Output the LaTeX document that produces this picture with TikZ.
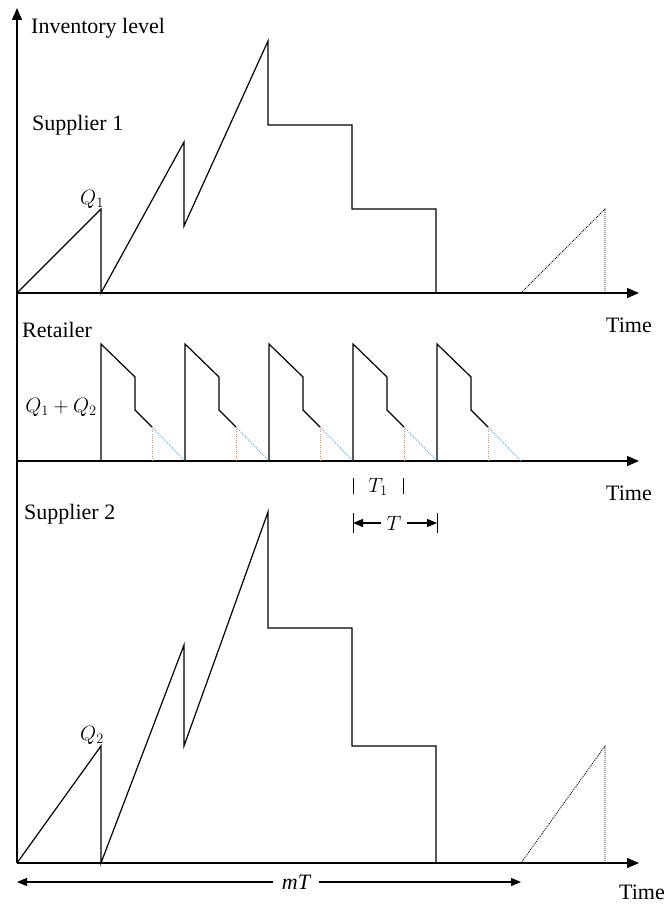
\documentclass[tikz,border=0pt]{standalone}
\usepackage{fontspec}
\setmainfont{Liberation Serif}
\usetikzlibrary{arrows.meta}
\definecolor{dblue}{RGB}{80,165,215}
\definecolor{dorange}{RGB}{240,140,80}
\begin{document}
\begin{tikzpicture}[x=1pt,y=-1pt,
  curve/.style={line width=1.2pt, line join=miter},
  axisline/.style={line width=1.3pt,-{Triangle[length=12pt,width=10pt]}},
  trail/.style={line width=0.8pt, dash pattern=on 1pt off 1pt},
  bluedot/.style={dblue, line width=0.9pt, dash pattern=on 1pt off 1.2pt},
  orangedot/.style={dorange, line width=0.9pt, dash pattern=on 1pt off 1.2pt},
  lbl/.style={font=\fontsize{22}{24}\selectfont, inner sep=0pt},
  mlbl/.style={font=\fontsize{21}{24}\selectfont, inner sep=0pt},
  dimarrow/.style={line width=1.1pt,-{Triangle[length=10pt,width=8pt]}},
  tick/.style={line width=1pt}
]
\useasboundingbox (0,0) rectangle (668,907);

% axes
\coordinate (O) at (17,863);
\coordinate (Top) at (17,8);
\draw[axisline] (O) -- (Top);
\coordinate (o1) at (17,293); \coordinate (e1) at (639,293);
\coordinate (o2) at (17,461); \coordinate (e2) at (639,461);
\coordinate (o3) at (17,863); \coordinate (e3) at (639,863);
\draw[axisline] (o1) -- (e1);
\draw[axisline] (o2) -- (e2);
\draw[axisline] (o3) -- (e3);

% labels
\node[lbl, anchor=base west] (inv) at (31,34) {Inventory level};
\node[lbl, anchor=base west] (s1) at (32,130) {Supplier 1};
\node[lbl, anchor=base west] (ret) at (22,337) {Retailer};
\node[lbl, anchor=base west] (s2) at (24,519) {Supplier 2};
\node[lbl, anchor=base east] (t1) at (652,332) {Time};
\node[lbl, anchor=base east] (t2) at (652,500) {Time};
\node[lbl, anchor=base east] (t3) at (665,899) {Time};

% supplier 1
\draw[curve] (17,293) -- (101,209) -- (101,293) -- (184,142) -- (184,226)
  -- (268,41) -- (268,125) -- (352,125) -- (352,209) -- (436,209) -- (436,293);
\draw[trail] (521,293) -- (605,209) -- (605,293);
\node[mlbl] (q1) at (92,199) {$Q_1$};

% retailer
\foreach \x in {101,185,269,353,437} {
  \draw[curve] (\x,461) -- (\x,344) -- ++(34,33) -- ++(0,33) -- ++(17,17);
  \draw[bluedot] (\x+51,427) -- (\x+84,461);
  \draw[orangedot] (\x+51,427) -- (\x+51,461);
}
\node[mlbl] (q12) at (61,407) {$Q_1+Q_2$};

% T1 and T
\draw[tick] (353,478) -- (353,494);
\draw[tick] (403,478) -- (403,494);
\node[mlbl] (T1) at (378,487) {$T_1$};
\node[mlbl] (T) at (394,523) {$T$};
\coordinate (Tl) at (353,523);
\coordinate (Tr) at (437,523);
\draw[tick] (353,513) -- (353,533);
\draw[tick] (437,513) -- (437,533);
\draw[dimarrow] ([xshift=-5pt]T.west) -- (Tl);
\draw[dimarrow] ([xshift=5pt]T.east) -- (Tr);

% supplier 2
\draw[curve] (17,863) -- (101,746) -- (101,863) -- (184,645) -- (184,746)
  -- (268,512) -- (268,628) -- (352,628) -- (352,746) -- (436,746) -- (436,863);
\draw[trail] (521,863) -- (605,746) -- (605,863);
\node[mlbl] (q2) at (92,735) {$Q_2$};

% mT
\node[lbl, font=\fontsize{22}{24}\selectfont\itshape] (mT) at (296,882) {mT};
\coordinate (ml) at (17,882);
\coordinate (mr) at (521,882);
\draw[dimarrow] ([xshift=-9pt]mT.west) -- (ml);
\draw[dimarrow] ([xshift=9pt]mT.east) -- (mr);
\end{tikzpicture}
\end{document}
